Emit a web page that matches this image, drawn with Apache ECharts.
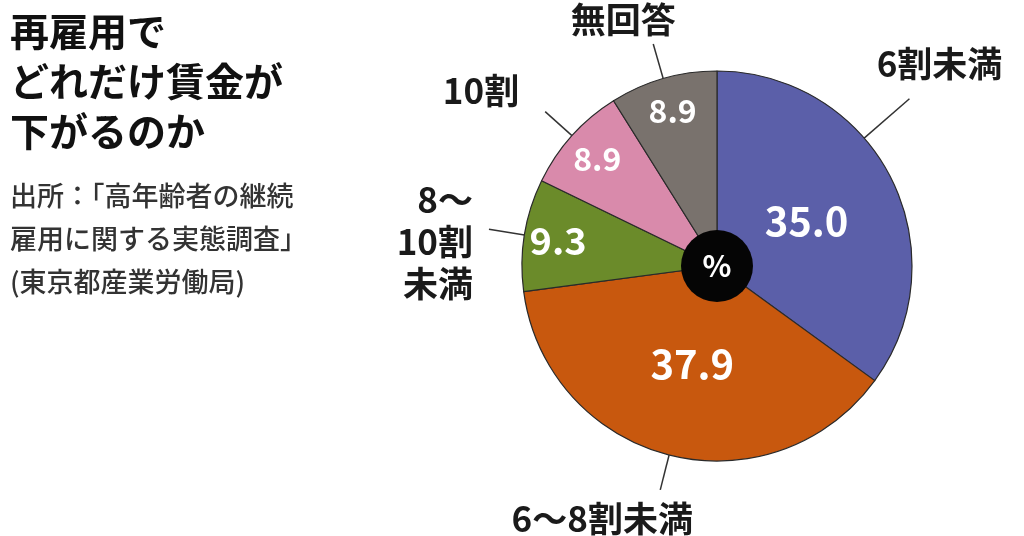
<!DOCTYPE html>
<html>
<head>
<meta charset="utf-8">
<script src="https://cdn.jsdelivr.net/npm/echarts@6/dist/echarts.min.js"></script>
<style>
html,body{margin:0;padding:0;background:#fff;}
#chart{width:1024px;height:536px;}
</style>
</head>
<body>
<div id="chart"></div>
<script>
// ---- data ----
const categories = ['6割未満', '6～8割未満', '8～\n10割\n未満', '10割', '無回答'];
const values = [35.0, 37.9, 9.3, 8.9, 8.9];
const unitLabel = '%';
const titleText = '再雇用で\nどれだけ賃金が\n下がるのか';
const sourceText = '出所：「高年齢者の継続\n雇用に関する実態調査」\n(東京都産業労働局)';

// ---- style ----
const colors = ['#5b5fa9', '#c8580e', '#6b8b2a', '#d98aab', '#79726d'];
const nearRim = [false, false, true, true, true];
const valueFont = [40, 40, 38, 32, 32];
const lineLen = [60, 36, 36, 36, 36];
const outerPlace = [
  {rot: -14, align: 'center', verticalAlign: 'bottom', dx: 30, dy: -14},
  {rot: 0, align: 'center', verticalAlign: 'top', dx: -58, dy: 8},
  {rot: 0, align: 'right', verticalAlign: 'middle', dx: -16, dy: 13},
  {rot: 0, align: 'right', verticalAlign: 'bottom', dx: -26, dy: 0},
  {rot: 0, align: 'center', verticalAlign: 'bottom', dx: -30, dy: -3}
];
const FONT = '"Noto Sans CJK JP", "Noto Sans", sans-serif';
const CENTER = [717, 266];
const R = 195;

const chart = echarts.init(document.getElementById('chart'));

const mainData = categories.map((c, i) => ({
  value: values[i], name: c,
  itemStyle: {color: colors[i]},
  labelLine: {length: lineLen[i]}
}));
const valueData = (rimFlag) => categories.map((c, i) => ({
  value: values[i], name: c,
  label: {show: nearRim[i] === rimFlag, fontSize: valueFont[i]}
}));

function rotatePt(pt, deg) {
  const a = deg * Math.PI / 180;
  const dx = pt[0] - CENTER[0], dy = pt[1] - CENTER[1];
  return [CENTER[0] + dx * Math.cos(a) - dy * Math.sin(a),
          CENTER[1] + dx * Math.sin(a) + dy * Math.cos(a)];
}

chart.setOption({
  animation: false,
  title: {
    left: 5, top: 1,
    text: titleText,
    subtext: sourceText,
    itemGap: 18,
    textStyle: {fontFamily: FONT, fontSize: 39, fontWeight: 'bold', color: '#111', lineHeight: 50},
    subtextStyle: {fontFamily: FONT, fontSize: 27, fontWeight: 500, color: '#333', lineHeight: 43}
  },
  series: [
    {
      type: 'pie', center: CENTER, radius: [0, R],
      startAngle: 90, clockwise: true,
      avoidLabelOverlap: false, silent: true,
      data: mainData,
      itemStyle: {borderColor: '#2a2a2a', borderWidth: 1.2},
      label: {
        show: true, position: 'outside', formatter: '{b}',
        fontFamily: FONT, fontSize: 35, fontWeight: 'bold', color: '#1a1a1a', lineHeight: 42
      },
      labelLine: {show: true, length2: 0, smooth: false,
        lineStyle: {color: '#333', width: 1.5}},
      labelLayout: function (p) {
        if (!p.labelLinePoints) return {};
        const o = outerPlace[p.dataIndex];
        const pts = p.labelLinePoints.map(pt => rotatePt(pt, o.rot));
        const e = pts[pts.length - 1];
        return {x: e[0] + o.dx, y: e[1] + o.dy, align: o.align,
          verticalAlign: o.verticalAlign, labelLinePoints: pts};
      }
    },
    {
      type: 'pie', center: CENTER, radius: [0, R],
      startAngle: 90, clockwise: true, silent: true,
      avoidLabelOverlap: false,
      data: valueData(false),
      itemStyle: {color: 'transparent', borderWidth: 0},
      label: {position: 'inner', formatter: (p) => p.value.toFixed(1),
        fontFamily: FONT, fontWeight: 'bold', color: '#fff'},
      labelLine: {show: false}
    },
    {
      type: 'pie', center: CENTER, radius: [0, R * 1.62],
      startAngle: 90, clockwise: true, silent: true,
      avoidLabelOverlap: false,
      data: valueData(true),
      itemStyle: {color: 'transparent', borderWidth: 0},
      label: {position: 'inner', formatter: (p) => p.value.toFixed(1),
        fontFamily: FONT, fontWeight: 'bold', color: '#fff'},
      labelLine: {show: false}
    },
    {
      type: 'pie', center: CENTER, radius: [0, 36], silent: true,
      data: [{value: 1, name: unitLabel}],
      itemStyle: {color: '#050505'},
      label: {show: true, position: 'center', formatter: '{b}',
        fontFamily: FONT, fontSize: 30, fontWeight: 'bold', color: '#fff'},
      labelLine: {show: false}
    }
  ]
});
</script>
</body>
</html>
